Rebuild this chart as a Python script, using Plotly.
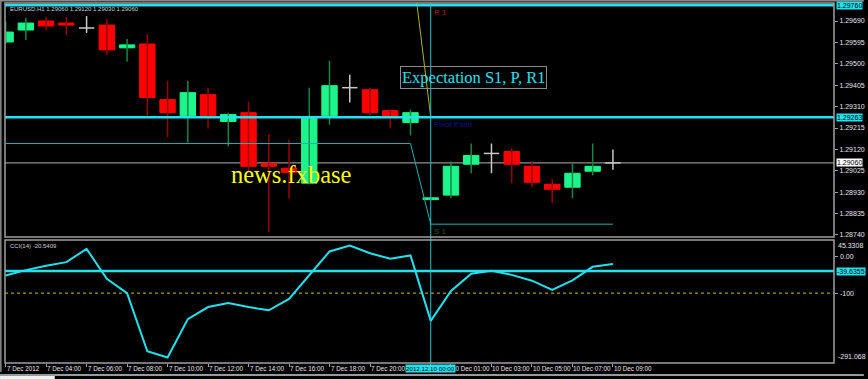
import plotly.graph_objects as go

# ---------------- data ----------------
bar_times = ["7 Dec 02:00", "7 Dec 03:00", "7 Dec 04:00", "7 Dec 05:00", "7 Dec 06:00",
             "7 Dec 07:00", "7 Dec 08:00", "7 Dec 09:00", "7 Dec 10:00", "7 Dec 11:00",
             "7 Dec 12:00", "7 Dec 13:00", "7 Dec 14:00", "7 Dec 15:00", "7 Dec 16:00",
             "7 Dec 17:00", "7 Dec 18:00", "7 Dec 19:00", "7 Dec 20:00", "7 Dec 21:00",
             "7 Dec 22:00", "10 Dec 00:00", "10 Dec 01:00", "10 Dec 02:00", "10 Dec 03:00",
             "10 Dec 04:00", "10 Dec 05:00", "10 Dec 06:00", "10 Dec 07:00", "10 Dec 08:00",
             "10 Dec 09:00"]

opens = [1.29597, 1.29650, 1.29690, 1.29681, 1.29659, 1.29672, 1.29571, 1.29588, 1.29341, 1.29270,
         1.29363, 1.29244, 1.29283, 1.29058, 1.29036, 1.28970, 1.29270, 1.29394, 1.29385, 1.29292,
         1.29239, 1.28897, 1.28917, 1.29054, 1.29102, 1.29111, 1.29045, 1.28965, 1.28952, 1.29023,
         1.29060]
highs = [1.29690, 1.29703, 1.29708, 1.29708, 1.29712, 1.29699, 1.29610, 1.29633, 1.29425, 1.29425,
         1.29394, 1.29283, 1.29332, 1.29186, 1.29164, 1.29394, 1.29513, 1.29451, 1.29394, 1.29297,
         1.29297, 1.28908, 1.29067, 1.29146, 1.29146, 1.29124, 1.29067, 1.28987, 1.29058, 1.29146,
         1.29120]
lows = [1.29588, 1.29606, 1.29650, 1.29628, 1.29637, 1.29540, 1.29509, 1.29270, 1.29173, 1.29151,
        1.29213, 1.29133, 1.29018, 1.28753, 1.28903, 1.28965, 1.29230, 1.29328, 1.29270, 1.29213,
        1.29182, 1.28895, 1.28903, 1.29014, 1.29014, 1.28970, 1.28952, 1.28881, 1.28903, 1.29005,
        1.29030]
closes = [1.29641, 1.29681, 1.29668, 1.29672, 1.29659, 1.29562, 1.29584, 1.29350, 1.29283, 1.29372,
          1.29261, 1.29275, 1.29045, 1.29045, 1.29018, 1.29261, 1.29403, 1.29394, 1.29283, 1.29261,
          1.29283, 1.28905, 1.29045, 1.29093, 1.29102, 1.29054, 1.28974, 1.28943, 1.29014, 1.29045,
          1.29060]

cci_values = [-51.7, -37.0, -25.0, -15.3, 21.0, -61.0, -100.0, -259.0, -276.0, -171.0,
              -138.0, -127.0, -138.0, -147.0, -116.0, -50.0, 14.0, 30.0, 9.0, -6.0,
              3.0, -176.0, -94.0, -47.0, -39.0, -50.0, -66.0, -91.0, -65.0, -28.0,
              -20.5409]

s1_levels = [1.29146, 1.29146, 1.29146, 1.29146, 1.29146, 1.29146, 1.29146, 1.29146, 1.29146, 1.29146,
             1.29146, 1.29146, 1.29146, 1.29146, 1.29146, 1.29146, 1.29146, 1.29146, 1.29146, 1.29146,
             1.29146, 1.28788, 1.28788, 1.28788, 1.28788, 1.28788, 1.28788, 1.28788, 1.28788, 1.28788,
             1.28788]
pivot_levels = [1.30000, 1.30000, 1.30000, 1.30000, 1.30000, 1.30000, 1.30000, 1.30000, 1.30000, 1.30000,
                1.30000, 1.30000, 1.30000, 1.30000, 1.30000, 1.30000, 1.30000, 1.30000, 1.30000, 1.30000,
                1.30000, 1.29263, 1.29263, 1.29263, 1.29263, 1.29263, 1.29263, 1.29263, 1.29263, 1.29263,
                1.29263]

r1_line = 1.29760
pivot_line = 1.29263
bid_price = 1.29060
cci_level = -39.6355
cci_dotted = -100

price_ticks = [1.29690, 1.29595, 1.29500, 1.29405, 1.29310, 1.29215, 1.29120, 1.29025, 1.28930, 1.28835, 1.28740]
cci_ticks = [0, -100]
cci_tick_text = ["0.00", "-100"]
cci_max, cci_min = 45.3308, -291.068

x_tick_idx = [0, 2, 4, 6, 8, 10, 12, 14, 16, 18, 22, 24, 26, 28, 30]
x_tick_text = ["7 Dec 2012", "7 Dec 04:00", "7 Dec 06:00", "7 Dec 08:00", "7 Dec 10:00", "7 Dec 12:00",
               "7 Dec 14:00", "7 Dec 16:00", "7 Dec 18:00", "7 Dec 20:00", "10 Dec 01:00", "10 Dec 03:00",
               "10 Dec 05:00", "10 Dec 07:00", "10 Dec 09:00"]
cursor_idx = 21
cursor_text = "2012.12.10 00:00"

header = "EURUSD,H1 1.29060 1.29120 1.29030 1.29060"
cci_header = "CCI(14) -20.5409"

# ---------------- styling ----------------
UP = "#1DF58C"
DOWN = "#FF0000"
UP_WICK = "#15883F"
DOWN_WICK = "#9A0000"
DOJI = "#C8C8C8"
CYAN = "#22E2F0"
FRAME = "#A0A0A0"
TXT = "#E6E6E6"
FONT = "Liberation Sans"
BODY_W = 0.76

xs = list(range(len(bar_times)))

fig = go.Figure()

# wicks
groups = {"up": ([], [], UP_WICK), "down": ([], [], DOWN_WICK), "doji": ([], [], DOJI)}
for i in xs:
    o, h, l, c = opens[i], highs[i], lows[i], closes[i]
    key = "doji" if c == o else ("up" if c > o else "down")
    gx, gy, _ = groups[key]
    gx += [i, i, None]
    gy += [l, h, None]
for key, (gx, gy, col) in groups.items():
    fig.add_trace(go.Scatter(x=gx, y=gy, mode="lines", line=dict(color=col, width=1.5),
                             xaxis="x", yaxis="y", hoverinfo="skip"))

# bodies
for key, col in (("up", UP), ("down", DOWN)):
    bx, by, bb = [], [], []
    for i in xs:
        o, c = opens[i], closes[i]
        if (key == "up" and c > o) or (key == "down" and c < o):
            bx.append(i)
            by.append(abs(c - o))
            bb.append(min(o, c))
    fig.add_trace(go.Bar(x=bx, y=by, base=bb, width=BODY_W, marker=dict(color=col, line=dict(color=col, width=1)),
                         xaxis="x", yaxis="y", hoverinfo="skip"))

# doji horizontals
dx, dy = [], []
for i in xs:
    if closes[i] == opens[i]:
        dx += [i - BODY_W / 2, i + BODY_W / 2, None]
        dy += [opens[i], opens[i], None]
fig.add_trace(go.Scatter(x=dx, y=dy, mode="lines", line=dict(color=DOJI, width=1.5),
                         xaxis="x", yaxis="y", hoverinfo="skip"))

# pivot indicator lines
fig.add_trace(go.Scatter(x=xs, y=pivot_levels, mode="lines", line=dict(color="#B4B400", width=1),
                         xaxis="x", yaxis="y", hoverinfo="skip"))
fig.add_trace(go.Scatter(x=xs, y=s1_levels, mode="lines", line=dict(color="#1FB2B2", width=1),
                         xaxis="x", yaxis="y", hoverinfo="skip"))

# horizontal user lines (main)
for lvl in (r1_line, pivot_line):
    fig.add_trace(go.Scatter(x=[-1, 45], y=[lvl, lvl], mode="lines", line=dict(color=CYAN, width=2.5),
                             xaxis="x", yaxis="y", hoverinfo="skip"))

# CCI
fig.add_trace(go.Scatter(x=[-1, 45], y=[cci_level, cci_level], mode="lines", line=dict(color=CYAN, width=2.5),
                         xaxis="x", yaxis="y2", hoverinfo="skip"))
fig.add_trace(go.Scatter(x=xs, y=cci_values, mode="lines", line=dict(color=CYAN, width=2),
                         xaxis="x", yaxis="y2", hoverinfo="skip"))

# ---------------- shapes ----------------
def px_x(px):
    return (px - 5) / 833.0

def px_y(py):
    return (363 - py) / 360.0

shapes = [
    dict(type="line", xref="paper", x0=0, x1=1, yref="y", y0=bid_price, y1=bid_price,
         line=dict(color="#B4B4B4", width=1), layer="below"),
    dict(type="line", xref="paper", x0=0, x1=1, yref="y2", y0=cci_dotted, y1=cci_dotted,
         line=dict(color="#C8C800", width=1, dash="dot"), layer="below"),
    dict(type="line", xref="x", x0=cursor_idx, x1=cursor_idx, yref="paper", y0=0, y1=1,
         line=dict(color="#20C4CC", width=1)),
    dict(type="rect", xref="paper", x0=0, x1=1, yref="y domain", y0=0, y1=1,
         line=dict(color=FRAME, width=1.5), fillcolor="rgba(0,0,0,0)"),
    dict(type="rect", xref="paper", x0=0, x1=1, yref="y2 domain", y0=0, y1=1,
         line=dict(color=FRAME, width=1.5), fillcolor="rgba(0,0,0,0)"),
    # window frame
    dict(type="line", xref="paper", x0=px_x(0), x1=px_x(868), yref="paper", y0=px_y(0.8), y1=px_y(0.8),
         line=dict(color="#8A8A8A", width=1.5)),
    dict(type="line", xref="paper", x0=px_x(0.8), x1=px_x(0.8), yref="paper", y0=px_y(0), y1=px_y(372),
         line=dict(color="#8A8A8A", width=1.5)),
    dict(type="line", xref="paper", x0=px_x(0), x1=px_x(868), yref="paper", y0=px_y(375), y1=px_y(375),
         line=dict(color="#9A9A9A", width=2)),
    dict(type="rect", xref="paper", x0=px_x(0), x1=px_x(55), yref="paper", y0=px_y(376), y1=px_y(380),
         line=dict(width=0), fillcolor="#F0F0F0"),
]

# ---------------- annotations ----------------
ann = []
small = dict(family=FONT, size=7, color=TXT)
xfont = dict(family=FONT, size=6.3, color=TXT)

# x labels
for idx, txt in zip(x_tick_idx, x_tick_text):
    ann.append(dict(x=idx, xref="x", y=px_y(368.5), yref="paper", text=txt, showarrow=False,
                    xanchor="left", yanchor="middle", xshift=-1, font=xfont))
ann.append(dict(x=cursor_idx, xref="x", y=px_y(368.5), yref="paper", text=cursor_text, showarrow=False,
                xanchor="center", yanchor="middle", bgcolor=CYAN, borderpad=0,
                font=dict(family=FONT, size=6.2, color="#000000")))

# CCI tick labels
for val, txt in zip(cci_ticks, cci_tick_text):
    ann.append(dict(x=1, xref="paper", y=val, yref="y2", text=txt, showarrow=False, xanchor="left",
                    yanchor="middle", xshift=4, font=small))

# highlighted price labels
for val, yr, txt, bg in ((r1_line, "y", "1.29760", CYAN), (pivot_line, "y", "1.29263", CYAN),
                         (bid_price, "y", "1.29060", "#FFFFFF"), (cci_level, "y2", "-39.6355", CYAN)):
    ann.append(dict(x=1, xref="paper", y=val, yref=yr, text=txt, showarrow=False, xanchor="left",
                    yanchor="middle", xshift=2, bgcolor=bg, borderpad=0,
                    font=dict(family=FONT, size=7, color="#000000")))

# CCI extremes labels
ann.append(dict(x=1, xref="paper", y=cci_max, yref="y2", text="45.3308", showarrow=False, xanchor="left",
                yanchor="top", xshift=2, yshift=0, font=small))
ann.append(dict(x=1, xref="paper", y=cci_min, yref="y2", text="-291.068", showarrow=False, xanchor="left",
                yanchor="bottom", xshift=2, yshift=1, font=small))

# headers
ann.append(dict(x=px_x(8), xref="paper", y=px_y(9), yref="paper", text=header, showarrow=False,
                xanchor="left", yanchor="middle", font=dict(family=FONT, size=6, color="#D0D0D0")))
ann.append(dict(x=px_x(8), xref="paper", y=px_y(246), yref="paper", text=cci_header, showarrow=False,
                xanchor="left", yanchor="middle", font=dict(family=FONT, size=6, color="#D0D0D0")))

# pivot labels
ann.append(dict(x=cursor_idx, xref="x", y=r1_line, yref="y", text="R 1", showarrow=False, xanchor="left",
                yanchor="top", xshift=1, yshift=-1, font=dict(family=FONT, size=8, color="#A01818")))
ann.append(dict(x=cursor_idx, xref="x", y=pivot_line, yref="y", text="Pivot Point", showarrow=False,
                xanchor="left", yanchor="top", xshift=1, yshift=-1, font=dict(family=FONT, size=8, color="#141490")))
ann.append(dict(x=cursor_idx, xref="x", y=s1_levels[-1], yref="y", text="S 1", showarrow=False,
                xanchor="left", yanchor="top", xshift=1, yshift=-1, font=dict(family=FONT, size=8, color="#0C5E22")))

# overlay texts
ann.append(dict(x=23.09, xref="x", y=1.29438, yref="y", text="Expectation S1, P, R1", showarrow=False,
                xanchor="center", yanchor="middle", bordercolor="#8C8C8C", borderwidth=1, borderpad=1,
                font=dict(family="Liberation Serif", size=16.5, color=CYAN)))
ann.append(dict(x=14.14, xref="x", y=1.29009, yref="y", text="news.fxbase", showarrow=False,
                xanchor="center", yanchor="middle",
                font=dict(family="Liberation Serif", size=24.5, color="#FFFF00")))

fig.update_layout(
    width=868, height=379,
    margin=dict(l=5, r=30, t=3, b=16),
    paper_bgcolor="#000000", plot_bgcolor="#000000",
    showlegend=False, barmode="overlay",
    shapes=shapes, annotations=ann,
    xaxis=dict(range=[-0.03, 40.92], anchor="y2", tickvals=x_tick_idx + [cursor_idx], ticks="outside",
               ticklen=3, tickcolor=FRAME, showticklabels=False, showgrid=False, zeroline=False,
               showline=False, fixedrange=True),
    yaxis=dict(domain=[0.35, 1], range=[1.28731, 1.29770], side="right", anchor="x",
               tickvals=price_ticks, ticktext=["%.5f" % v for v in price_ticks], ticks="outside",
               ticklen=3, tickcolor=FRAME, tickfont=small, showgrid=False, zeroline=False,
               showline=False, fixedrange=True),
    yaxis2=dict(domain=[0, 0.3417], range=[cci_min, cci_max], side="right", anchor="x",
                tickvals=cci_ticks, ticks="outside", ticklen=3, tickcolor=FRAME,
                showticklabels=False, showgrid=False, zeroline=False, showline=False, fixedrange=True),
)

fig.write_html("out.html")
